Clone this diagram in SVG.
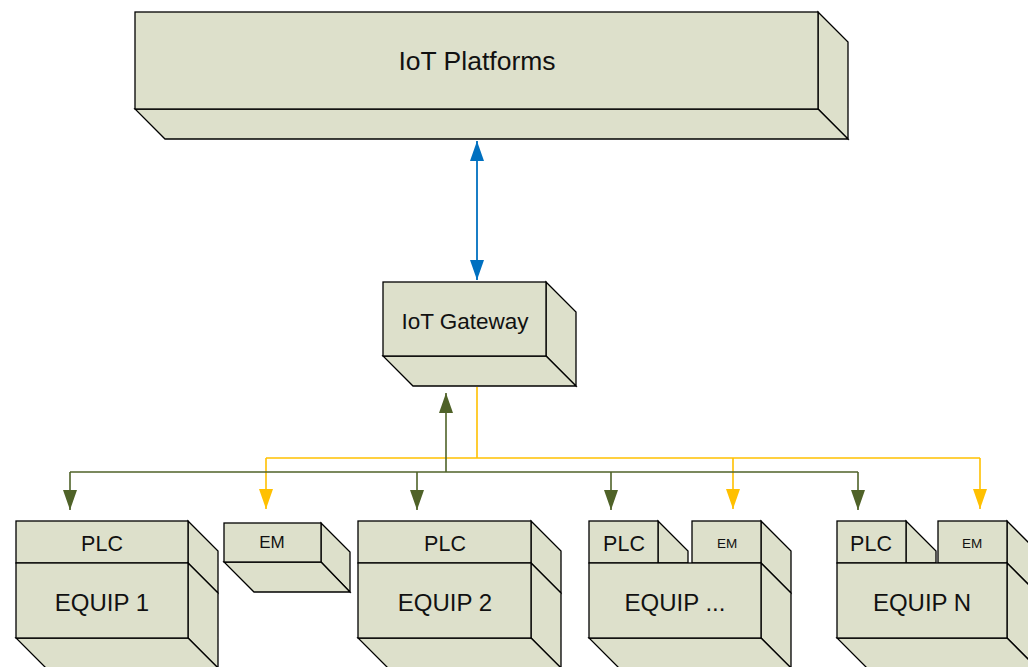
<svg xmlns="http://www.w3.org/2000/svg" width="1028" height="667" viewBox="0 0 1028 667">
  <style>
    .box { fill: #DDE0CB; stroke: #000; stroke-width: 1.3; stroke-linejoin: miter; }
    .lbl { font-family: "Liberation Sans", Arial, sans-serif; fill: #111; text-anchor: middle; }
    .green { stroke: #4F6228; stroke-width: 1.6; fill: none; }
    .yellow { stroke: #FFC000; stroke-width: 1.6; fill: none; }
    .blue { stroke: #0070C0; stroke-width: 1.8; fill: none; }
  </style>
  <defs>
    <marker id="ahGreen" markerUnits="userSpaceOnUse" markerWidth="20" markerHeight="14" refX="20" refY="7" orient="auto" viewBox="0 0 20 14">
      <path d="M0,0 L20,7 L0,14 Z" fill="#4F6228"/>
    </marker>
    <marker id="ahYellow" markerUnits="userSpaceOnUse" markerWidth="20" markerHeight="14" refX="20" refY="7" orient="auto" viewBox="0 0 20 14">
      <path d="M0,0 L20,7 L0,14 Z" fill="#FFC000"/>
    </marker>
    <marker id="ahBlue" markerUnits="userSpaceOnUse" markerWidth="20" markerHeight="14" refX="20" refY="7" orient="auto-start-reverse" viewBox="0 0 20 14">
      <path d="M0,0 L20,7 L0,14 Z" fill="#0070C0"/>
    </marker>
  </defs>

  <!-- IoT Platforms -->
  <g id="iot-platforms">
    <polygon class="box" points="818,12 848,42 848,139 818,109"/>
    <polygon class="box" points="135,109 818,109 848,139 165,139"/>
    <rect class="box" x="135" y="12" width="683" height="97"/>
    <text class="lbl" x="477" y="70" font-size="26.5">IoT Platforms</text>
  </g>

  <!-- IoT Gateway -->
  <g id="iot-gateway">
    <polygon class="box" points="546,282 576,312 576,386 546,356"/>
    <polygon class="box" points="383,356 546,356 576,386 413,386"/>
    <rect class="box" x="383" y="282" width="163" height="74"/>
    <text class="lbl" x="465" y="329" font-size="22.5">IoT Gateway</text>
  </g>

  <!-- Connectors -->
  <g id="connectors">
    <line class="blue" x1="477" y1="141" x2="477" y2="280" marker-start="url(#ahBlue)" marker-end="url(#ahBlue)"/>
    <!-- energy meter bus -->
    <polyline class="yellow" points="477,387 477,458"/>
    <line class="yellow" x1="266" y1="458" x2="980" y2="458"/>
    <line class="yellow" x1="266" y1="458" x2="266" y2="509" marker-end="url(#ahYellow)"/>
    <line class="yellow" x1="733" y1="458" x2="733" y2="509" marker-end="url(#ahYellow)"/>
    <line class="yellow" x1="980" y1="458" x2="980" y2="509" marker-end="url(#ahYellow)"/>
    <!-- PLC bus -->
    <line class="green" x1="446" y1="472" x2="446" y2="393" marker-end="url(#ahGreen)"/>
    <line class="green" x1="70" y1="472" x2="858" y2="472"/>
    <line class="green" x1="70" y1="472" x2="70" y2="510" marker-end="url(#ahGreen)"/>
    <line class="green" x1="417" y1="472" x2="417" y2="510" marker-end="url(#ahGreen)"/>
    <line class="green" x1="611" y1="472" x2="611" y2="510" marker-end="url(#ahGreen)"/>
    <line class="green" x1="858" y1="472" x2="858" y2="510" marker-end="url(#ahGreen)"/>
  </g>

  <!-- EQUIP 1 -->
  <g id="equip-1">
    <polygon class="box" points="188,521 218,551 218,593 188,563"/>
    <rect class="box" x="16" y="521" width="172" height="42"/>
    <polygon class="box" points="188,563 218,593 218,668 188,638"/>
    <polygon class="box" points="16,638 188,638 218,668 46,668"/>
    <rect class="box" x="16" y="563" width="172" height="75"/>
    <text class="lbl" x="102" y="551" font-size="21.5">PLC</text>
    <text class="lbl" x="102" y="611" font-size="24">EQUIP 1</text>
  </g>

  <!-- standalone EM -->
  <g id="em-1">
    <polygon class="box" points="321,523 350,552 350,592 321,562"/>
    <polygon class="box" points="224,562 321,562 350,592 254,592"/>
    <rect class="box" x="224" y="523" width="97" height="39"/>
    <text class="lbl" x="272" y="548" font-size="17">EM</text>
  </g>

  <!-- EQUIP 2 -->
  <g id="equip-2">
    <polygon class="box" points="531,521 561,551 561,593 531,563"/>
    <rect class="box" x="358" y="521" width="173" height="42"/>
    <polygon class="box" points="531,563 561,593 561,668 531,638"/>
    <polygon class="box" points="358,638 531,638 561,668 388,668"/>
    <rect class="box" x="358" y="563" width="173" height="75"/>
    <text class="lbl" x="445" y="551" font-size="21.5">PLC</text>
    <text class="lbl" x="445" y="611" font-size="24">EQUIP 2</text>
  </g>

  <!-- EQUIP ... -->
  <g id="equip-dots">
    <polygon class="box" points="658,521 688,551 688,563 658,563"/>
    <rect class="box" x="589" y="521" width="69" height="42"/>
    <polygon class="box" points="761,521 791,551 791,593 761,563"/>
    <rect class="box" x="692" y="521" width="69" height="42"/>
    <polygon class="box" points="761,563 791,593 791,668 761,638"/>
    <polygon class="box" points="589,638 761,638 791,668 619,668"/>
    <rect class="box" x="589" y="563" width="172" height="75"/>
    <text class="lbl" x="624" y="551" font-size="21.5">PLC</text>
    <text class="lbl" x="727" y="548" font-size="13.5">EM</text>
    <text class="lbl" x="675" y="611" font-size="24">EQUIP ...</text>
  </g>

  <!-- EQUIP N -->
  <g id="equip-n">
    <polygon class="box" points="906,521 936,551 936,563 906,563"/>
    <rect class="box" x="837" y="521" width="69" height="42"/>
    <polygon class="box" points="1007,521 1037,551 1037,593 1007,563"/>
    <rect class="box" x="938" y="521" width="69" height="42"/>
    <polygon class="box" points="1007,563 1037,593 1037,668 1007,638"/>
    <polygon class="box" points="837,638 1007,638 1037,668 867,668"/>
    <rect class="box" x="837" y="563" width="170" height="75"/>
    <text class="lbl" x="871" y="551" font-size="21.5">PLC</text>
    <text class="lbl" x="972" y="548" font-size="13.5">EM</text>
    <text class="lbl" x="922" y="611" font-size="24">EQUIP N</text>
  </g>
</svg>
